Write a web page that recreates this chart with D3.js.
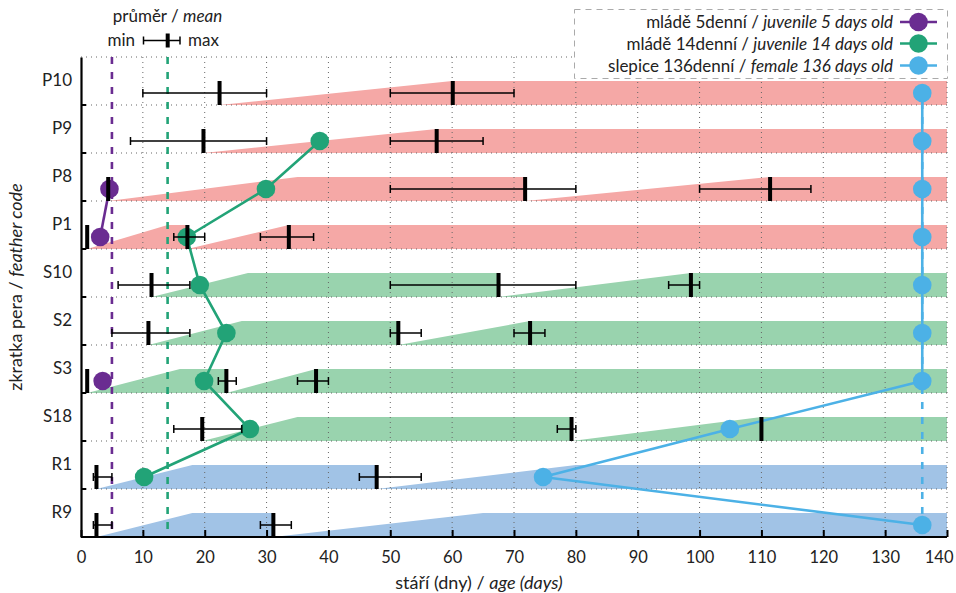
<!DOCTYPE html>
<html><head><meta charset="utf-8">
<script src="https://cdn.jsdelivr.net/npm/d3@7"></script>
<style>
body{margin:0;background:#fff;}
svg{display:block;font-family:Lato,"Open Sans",sans-serif;}
</style></head>
<body><svg id="c" width="956" height="593"></svg>
<script>
// ---------- data ----------
const rows = ["P10","P9","P8","P1","S10","S2","S3","S18","R1","R9"];
const rowGroup = ["P","P","P","P","S","S","S","S","R","R"];
const xTicks = [0,10,20,30,40,50,60,70,80,90,100,110,120,130,140];

// error bars (min / mean / max)
const barRow  = ["P10","P10","P9","P9","P8","P8","P8","P1","P1","P1","S10","S10","S10","S2","S2","S2","S3","S3","S3","S18","S18","S18","R1","R1","R9","R9"];
const barMin  = [10,50, 8,50, 4.4,50,100, 1,15,29, 6,50,95, 5,50,70, 1,22.2,35, 15,77,110, 2,45, 2,29];
const barMean = [22.4,60.1, 19.8,57.5, 4.4,71.8,111.4, 1,17.2,33.6, 11.4,67.5,98.6, 10.9,51.3,72.6, 1,23.5,38, 19.6,79.3,110, 2.5,47.8, 2.5,31.1];
const barMax  = [30,70, 30,65, 4.4,80,118, 1,20,37.6, 17.6,80,100, 17.6,55,75, 1,25.1,40, 26,80,110, 5,55, 5,34];

// growth bands: start (height 0) -> full height reached
const bandRow   = ["P10","P9","P8","P8","P1","P1","S10","S10","S2","S2","S3","S3","S18","S18","R1","R1","R9","R9"];
const bandStart = [22.4,19.8, 4.4,71.8, 1,17.2, 11.4,67.5, 10.9,51.3, 1,23.5, 19.6,79.3, 2.5,47.8, 2.5,31.1];
const bandFull  = [60,57.5, 35,111.4, 14,33.6, 27,98.6, 26,72.6, 16,38, 35,110, 18,80, 18,65];

// series (age at which the bird of given age was in each feather row)
const juv5   = [null,null,4.6,3.1,null,null,3.5,null,null,null];
const juv14  = [null,38.6,29.9,17.1,19.2,23.5,19.9,27.3,10.2,null];
const fem136 = [136,136,136,136,136,136,136,104.9,74.7,136];
const refAges = [5,14,136];

const seriesNames = ["mládě 5denní / ","mládě 14denní / ","slepice 136denní / "];
const seriesNamesEn = ["juvenile 5 days old","juvenile 14 days old","female 136 days old"];
const seriesColors = ["#6a2c91","#22a377","#4cb1e6"];
const bandColors = {P:"#f5a8a6", S:"#99d3ae", R:"#a1c3e6"};

// ---------- chart ----------
const svg = d3.select("#c");
const M = {l:81, r:947, t:57, b:537};
const x = d3.scaleLinear().domain([0,140]).range([M.l,M.r]);
const y = d3.scaleBand().domain(rows).range([M.t,M.b]).paddingInner(0).paddingOuter(0);
const bh = y.bandwidth()/2;
const rowBottom = r => y(r)+y.bandwidth();
const rowMid = r => y(r)+y.bandwidth()*0.75;
const groupOf = r => rowGroup[rows.indexOf(r)];

// bands
const bands = bandRow.map((r,i)=>{
  let end = 140;
  bandRow.forEach((r2,j)=>{ if(r2===r && bandStart[j]>bandStart[i] && bandStart[j]<end) end = bandStart[j]; });
  return {r, s:bandStart[i], f:bandFull[i], e:end};
});
svg.append("g").selectAll("path").data(bands).join("path")
  .attr("fill", d=>bandColors[groupOf(d.r)])
  .attr("d", d=>{
    const b = rowBottom(d.r), t = b-bh;
    return `M${x(d.s)},${b}L${x(d.f)},${t}L${x(d.e)},${t}L${x(d.e)},${b}Z`;
  });

// grid
const grid = svg.append("g").attr("stroke","#666").attr("stroke-width",1).attr("stroke-dasharray","1,4");
grid.selectAll("line.v").data(xTicks.slice(1)).join("line").attr("class","v")
  .attr("x1",d=>x(d)).attr("x2",d=>x(d)).attr("y1",M.t).attr("y2",M.b);
grid.selectAll("line.h").data([M.t].concat(rows.map(rowBottom))).join("line").attr("class","h")
  .attr("x1",M.l).attr("x2",M.r).attr("y1",d=>d).attr("y2",d=>d);

// reference dashed lines
svg.append("g").selectAll("line").data(refAges).join("line")
  .attr("x1",d=>x(d)).attr("x2",d=>x(d)).attr("y1",M.t).attr("y2",M.b)
  .attr("stroke",(d,i)=>seriesColors[i]).attr("stroke-width",2.6).attr("stroke-dasharray","7,8");

// series lines & dots
const seriesData = [juv5, juv14, fem136];
seriesData.forEach((s,k)=>{
  const pts = rows.map((r,i)=>({r, v:s[i]}));
  const line = d3.line().defined(d=>d.v!==null).x(d=>x(d.v)).y(d=>rowMid(d.r));
  svg.append("path").datum(pts).attr("d",line).attr("fill","none")
    .attr("stroke",seriesColors[k]).attr("stroke-width",2.6);
  svg.append("g").selectAll("circle").data(pts.filter(d=>d.v!==null)).join("circle")
    .attr("cx",d=>x(d.v)).attr("cy",d=>rowMid(d.r)).attr("r",9.3).attr("fill",seriesColors[k]);
});

// error bars
const bars = barRow.map((r,i)=>({r, mn:barMin[i], me:barMean[i], mx:barMax[i]}));
const eb = svg.append("g");
bars.forEach(d=>{
  const cy = rowMid(d.r), b = rowBottom(d.r);
  if(d.mx>d.mn){
    eb.append("line").attr("x1",x(d.mn)).attr("x2",x(d.mx)).attr("y1",cy).attr("y2",cy).attr("stroke","#000").attr("stroke-width",1.5);
    [d.mn,d.mx].forEach(v=>eb.append("line").attr("x1",x(v)).attr("x2",x(v)).attr("y1",cy-4).attr("y2",cy+4).attr("stroke","#000").attr("stroke-width",1.5));
  }
  eb.append("rect").attr("x",x(d.me)-2).attr("y",b-bh).attr("width",4).attr("height",bh).attr("fill","#000");
});

// axes
const xAxis = svg.append("g").attr("transform",`translate(0,${M.b})`)
  .call(d3.axisBottom(x).tickValues(xTicks).tickSize(-7).tickPadding(14).tickFormat(d3.format("d")));
xAxis.select(".domain").attr("stroke","#000").attr("stroke-width",2).attr("d",`M${M.l},0H${M.r}`);
xAxis.selectAll(".tick line").attr("stroke","#000").attr("stroke-width",2);
xAxis.selectAll("text").attr("font-size",16.5).attr("fill","#222").attr("font-family","Lato");
// keep the last label inside the frame
xAxis.selectAll(".tick").filter(d=>d===140).select("text").attr("text-anchor","end").attr("x",6);

const yAxis = svg.append("g").attr("transform",`translate(${M.l},0)`)
  .call(d3.axisLeft(y).tickSize(0).tickPadding(9));
yAxis.select(".domain").attr("stroke","#000").attr("stroke-width",2.2);
yAxis.selectAll("text").attr("font-size",17).attr("fill","#222").attr("font-family","Lato");
svg.append("g").selectAll("line").data(rows.map(rowBottom)).join("line")
  .attr("x1",M.l).attr("x2",M.l+5).attr("y1",d=>d).attr("y2",d=>d).attr("stroke","#000").attr("stroke-width",2);

// axis titles
const xt = svg.append("text").attr("x",479).attr("y",589).attr("text-anchor","middle")
  .attr("font-size",18).attr("fill","#222");
xt.append("tspan").text("stáří (dny) / ");
xt.append("tspan").attr("font-style","italic").text("age (days)");
const yt = svg.append("text").attr("transform","translate(22,287) rotate(-90)").attr("text-anchor","middle")
  .attr("font-size",18).attr("fill","#222");
yt.append("tspan").text("zkratka pera / ");
yt.append("tspan").attr("font-style","italic").text("feather code");

// top-left legend
const tl = svg.append("text").attr("x",167.5).attr("y",22).attr("text-anchor","middle").attr("font-size",17).attr("fill","#222");
tl.append("tspan").text("průměr / ");
tl.append("tspan").attr("font-style","italic").text("mean");
svg.append("text").attr("x",135).attr("y",46).attr("text-anchor","end").attr("font-size",17).attr("fill","#222").text("min");
svg.append("text").attr("x",188).attr("y",46).attr("font-size",17).attr("fill","#222").text("max");
svg.append("line").attr("x1",143.5).attr("x2",180).attr("y1",40.5).attr("y2",40.5).attr("stroke","#000").attr("stroke-width",1.5);
[143.5,180].forEach(v=>svg.append("line").attr("x1",v).attr("x2",v).attr("y1",36.5).attr("y2",44.5).attr("stroke","#000").attr("stroke-width",1.5));
svg.append("rect").attr("x",165.7).attr("y",33.5).attr("width",4).attr("height",14).attr("fill","#000");

// top-right legend
svg.append("rect").attr("x",574.5).attr("y",9.5).attr("width",373).attr("height",69)
  .attr("fill","#fff").attr("stroke","#aaa").attr("stroke-width",1).attr("stroke-dasharray","6,5");
const legY = [22,43.5,65.5];
seriesColors.forEach((c,i)=>{
  const t = svg.append("text").attr("x",893).attr("y",legY[i]+6).attr("text-anchor","end").attr("font-size",17).attr("fill","#222");
  t.append("tspan").text(seriesNames[i]);
  t.append("tspan").attr("font-style","italic").text(seriesNamesEn[i]);
  svg.append("line").attr("x1",900).attr("x2",937).attr("y1",legY[i]).attr("y2",legY[i]).attr("stroke",c).attr("stroke-width",2.6);
  svg.append("circle").attr("cx",918.5).attr("cy",legY[i]).attr("r",9.3).attr("fill",c);
});
</script></body></html>
